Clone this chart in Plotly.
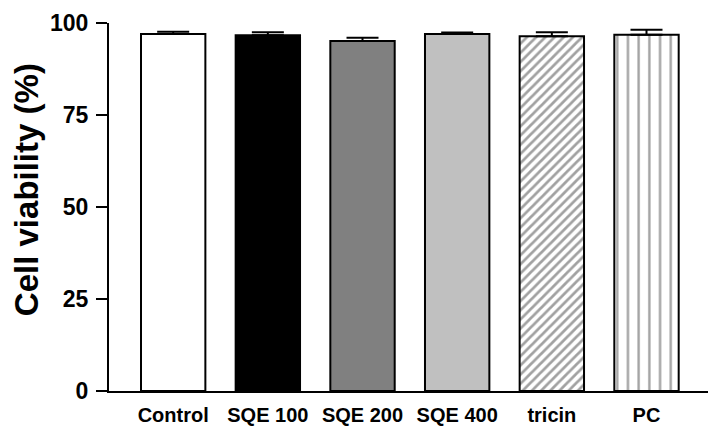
import plotly.graph_objects as go

categories = ["Control", "SQE 100", "SQE 200", "SQE 400", "tricin", "PC"]
viability = [97.0, 96.7, 95.1, 97.0, 96.4, 96.8]
errors = [0.6, 0.8, 0.9, 0.45, 1.1, 1.35]
y_ticks = [0, 25, 50, 75, 100]

fills = ["white", "black", "#808080", "#c0c0c0", "white", "white"]
shapes = ["", "", "", "", "/", "|"]
pat_sizes = [8, 8, 8, 8, 6.5, 10.7]
pat_solid = [0.3, 0.3, 0.3, 0.3, 0.42, 0.22]

FONT = "Liberation Sans, Arial, sans-serif"

fig = go.Figure()
fig.add_trace(go.Bar(
    x=categories,
    y=viability,
    width=0.68,
    marker=dict(
        color=fills,
        line=dict(color="black", width=2),
        pattern=dict(shape=shapes, fgcolor="black", bgcolor="white",
                     size=pat_sizes, solidity=pat_solid, fillmode="overlay"),
    ),
    error_y=dict(type="data", array=errors, arrayminus=[0] * len(errors),
                 symmetric=False, color="black", thickness=2, width=16),
    showlegend=False,
))

fig.update_layout(
    width=708, height=424,
    margin=dict(l=101, r=2, t=11, b=41),
    plot_bgcolor="white", paper_bgcolor="white",
    font=dict(family=FONT, color="black"),
    xaxis=dict(
        range=[-0.678, 5.713],
        showline=True, linecolor="black", linewidth=2,
        ticks="", showgrid=False, zeroline=False,
        tickfont=dict(family=FONT, size=20, weight="bold", color="black"),
        ticklabelstandoff=5,
        ticklabeloverflow="allow",
    ),
    yaxis=dict(
        range=[0, 100],
        tickvals=y_ticks,
        showline=True, linecolor="black", linewidth=2,
        ticks="outside", ticklen=11, tickwidth=2, tickcolor="black",
        showgrid=False, zeroline=False,
        tickfont=dict(family=FONT, size=23, weight="bold", color="black"),
        ticklabelstandoff=3,
        ticklabeloverflow="allow",
    ),
    annotations=[dict(
        text="Cell viability (%)", textangle=-90,
        xref="paper", yref="paper",
        x=-0.137, y=0.546, xanchor="center", yanchor="middle",
        showarrow=False,
        font=dict(family=FONT, size=33, weight="bold", color="black"),
    )],
)

fig.write_html("out.html")
